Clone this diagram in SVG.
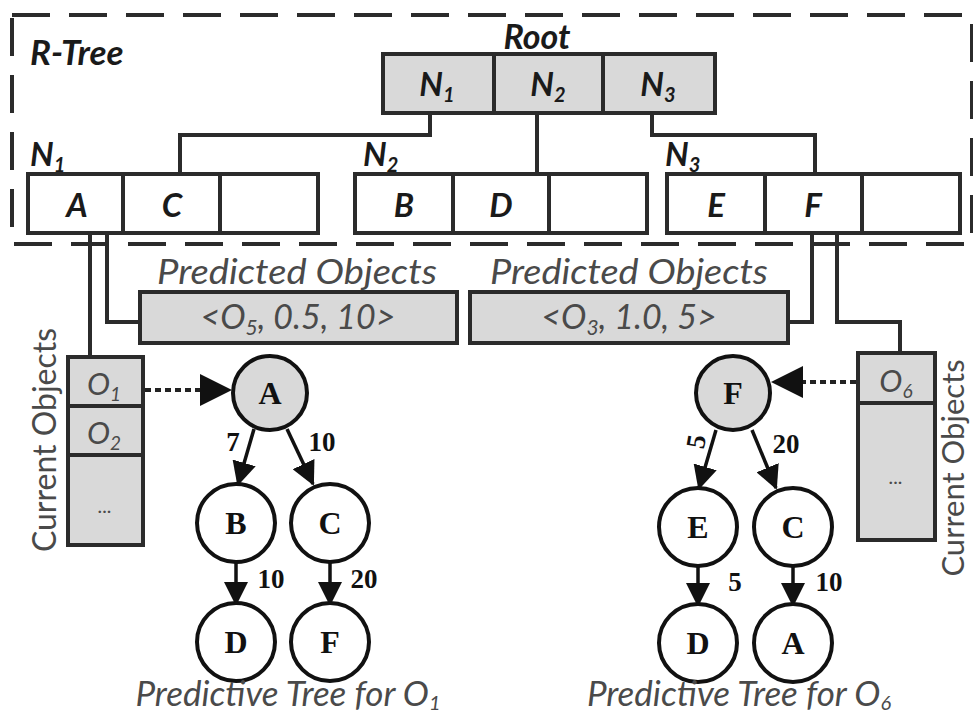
<svg xmlns="http://www.w3.org/2000/svg" width="973" height="720" viewBox="0 0 973 720">
  <style>
    .bg { fill: #ffffff; }
    .frame { fill: none; stroke: #2b2b2b; stroke-width: 4; stroke-dasharray: 38 19; }
    .cell { fill: #ffffff; stroke: #2b2b2b; stroke-width: 4; }
    .gcell { fill: #d9d9d9; stroke: #2b2b2b; stroke-width: 4; }
    .wire { fill: none; stroke: #2b2b2b; stroke-width: 4; }
    .edge { fill: none; stroke: #111; stroke-width: 3.5; }
    .dots { fill: none; stroke: #222; stroke-width: 4; stroke-dasharray: 6 4; }
    .node { stroke: #111; stroke-width: 4; }
    .lbl { font-family: Lato, "Liberation Sans", sans-serif; font-style: italic; font-weight: bold; fill: #1a1a1a; }
    .gray { font-family: Lato, "Liberation Sans", sans-serif; font-style: italic; fill: #4a4a4a; }
    .side { font-family: Lato, "Liberation Sans", sans-serif; fill: #4a4a4a; }
    .ser { font-family: "Liberation Serif", "DejaVu Serif", serif; font-weight: bold; fill: #111; text-anchor: middle; }
  </style>
  <defs>
    <marker id="head" markerUnits="userSpaceOnUse" markerWidth="24" markerHeight="24" viewBox="0 0 24 24" refX="22" refY="12" orient="auto">
      <path d="M0,0 L24,12 L0,24 Z" fill="#111"/>
    </marker>
  </defs>

  <rect class="bg" x="0" y="0" width="973" height="720"/>

  <!-- R-tree frame -->
  <rect class="frame" x="12" y="15" width="960" height="229"/>
  <text class="lbl" x="30" y="65" font-size="35">R-Tree</text>

  <!-- wiring between index entries -->
  <g id="connectors">
    <polyline class="wire" points="430,113 430,135 180,135 180,174"/>
    <polyline class="wire" points="537,113 537,174"/>
    <polyline class="wire" points="652,113 652,135 815,135 815,174"/>
    <polyline class="wire" points="90,233 90,357"/>
    <polyline class="wire" points="107,233 107,322 140,322"/>
    <polyline class="wire" points="812,233 812,322 788,322"/>
    <polyline class="wire" points="837,233 837,322 900,322 900,353"/>
    <line class="dots" x1="145" y1="390" x2="205" y2="390"/>
    <path d="M200,374 L232,390 L200,406 Z" fill="#111"/>
    <line class="dots" x1="856" y1="382" x2="798" y2="382"/>
    <path d="M803,366 L771,382 L803,398 Z" fill="#111"/>
    <line class="edge" x1="254" y1="429" x2="238" y2="484" marker-end="url(#head)"/>
    <line class="edge" x1="287" y1="429" x2="313" y2="484" marker-end="url(#head)"/>
    <line class="edge" x1="236" y1="562" x2="236" y2="604" marker-end="url(#head)"/>
    <line class="edge" x1="330" y1="562" x2="330" y2="604" marker-end="url(#head)"/>
    <line class="edge" x1="716" y1="430" x2="699" y2="488" marker-end="url(#head)"/>
    <line class="edge" x1="752" y1="430" x2="776" y2="488" marker-end="url(#head)"/>
    <line class="edge" x1="698" y1="566" x2="698" y2="605" marker-end="url(#head)"/>
    <line class="edge" x1="793" y1="566" x2="793" y2="605" marker-end="url(#head)"/>
    <g class="ser" font-size="27">
      <text x="233" y="451">7</text>
      <text x="322" y="451">10</text>
      <text x="271" y="588">10</text>
      <text x="364" y="588">20</text>
      <text x="0" y="0" transform="translate(705,443) rotate(-80)">5</text>
      <text x="786" y="453">20</text>
      <text x="735" y="591">5</text>
      <text x="829" y="591">10</text>
    </g>
  </g>

  <!-- root entry -->
  <g id="root">
    <text class="lbl" x="537" y="49" font-size="34" text-anchor="middle" font-weight="600">Root</text>
    <rect class="gcell" x="383" y="54" width="111" height="59"/>
    <rect class="gcell" x="494" y="54" width="109" height="59"/>
    <rect class="gcell" x="603" y="54" width="112" height="59"/>
    <text class="lbl" x="437" y="96" font-size="33" text-anchor="middle">N<tspan font-size="20" dy="6">1</tspan></text>
    <text class="lbl" x="548" y="96" font-size="33" text-anchor="middle">N<tspan font-size="20" dy="6">2</tspan></text>
    <text class="lbl" x="658" y="96" font-size="33" text-anchor="middle">N<tspan font-size="20" dy="6">3</tspan></text>
  </g>

  <!-- leaf nodes -->
  <g id="n1">
    <text class="lbl" x="30" y="166" font-size="33">N<tspan font-size="20" dy="6">1</tspan></text>
    <rect class="cell" x="28" y="174" width="95" height="59"/>
    <rect class="cell" x="123" y="174" width="97" height="59"/>
    <rect class="cell" x="220" y="174" width="98" height="59"/>
    <text class="lbl" x="77" y="217" font-size="33" text-anchor="middle">A</text>
    <text class="lbl" x="172" y="217" font-size="33" text-anchor="middle">C</text>
  </g>
  <g id="n2">
    <text class="lbl" x="363" y="166" font-size="33">N<tspan font-size="20" dy="6">2</tspan></text>
    <rect class="cell" x="355" y="174" width="98" height="59"/>
    <rect class="cell" x="453" y="174" width="96" height="59"/>
    <rect class="cell" x="549" y="174" width="98" height="59"/>
    <text class="lbl" x="404" y="217" font-size="33" text-anchor="middle">B</text>
    <text class="lbl" x="501" y="217" font-size="33" text-anchor="middle">D</text>
  </g>
  <g id="n3">
    <text class="lbl" x="665" y="166" font-size="33">N<tspan font-size="20" dy="6">3</tspan></text>
    <rect class="cell" x="667" y="174" width="98" height="59"/>
    <rect class="cell" x="765" y="174" width="97" height="59"/>
    <rect class="cell" x="862" y="174" width="98" height="59"/>
    <text class="lbl" x="716" y="217" font-size="33" text-anchor="middle">E</text>
    <text class="lbl" x="813" y="217" font-size="33" text-anchor="middle">F</text>
  </g>

  <!-- predicted object lists -->
  <g id="pred1">
    <text class="gray" x="297" y="284" font-size="35" text-anchor="middle" textLength="280" lengthAdjust="spacingAndGlyphs">Predicted Objects</text>
    <rect class="gcell" x="140" y="292" width="317" height="51"/>
    <text class="gray" x="298" y="329" font-size="34" text-anchor="middle">&lt;O<tspan font-size="21" dy="6">5</tspan><tspan dy="-6">, 0.5, 10&gt;</tspan></text>
  </g>
  <g id="pred3">
    <text class="gray" x="629" y="284" font-size="35" text-anchor="middle" textLength="278" lengthAdjust="spacingAndGlyphs">Predicted Objects</text>
    <rect class="gcell" x="470" y="292" width="318" height="51"/>
    <text class="gray" x="629" y="329" font-size="34" text-anchor="middle">&lt;O<tspan font-size="21" dy="6">3</tspan><tspan dy="-6">, 1.0, 5&gt;</tspan></text>
  </g>

  <!-- current object lists -->
  <g id="cur1">
    <text class="side" x="0" y="0" font-size="32" text-anchor="middle" transform="translate(56,440) rotate(-90)">Current Objects</text>
    <rect class="gcell" x="68" y="357" width="75" height="49"/>
    <rect class="gcell" x="68" y="406" width="75" height="49"/>
    <rect class="gcell" x="68" y="455" width="75" height="90"/>
    <text class="gray" x="104" y="395" font-size="31" text-anchor="middle">O<tspan font-size="19" dy="6">1</tspan></text>
    <text class="gray" x="104" y="444" font-size="31" text-anchor="middle">O<tspan font-size="19" dy="6">2</tspan></text>
    <text class="gray" x="105" y="513" font-size="20" text-anchor="middle">...</text>
  </g>
  <g id="cur6">
    <text class="side" x="0" y="0" font-size="31" text-anchor="middle" transform="translate(964,468) rotate(-90)">Current Objects</text>
    <rect class="gcell" x="858" y="353" width="77" height="50"/>
    <rect class="gcell" x="858" y="403" width="77" height="137"/>
    <text class="gray" x="896" y="392" font-size="31" text-anchor="middle">O<tspan font-size="19" dy="6">6</tspan></text>
    <text class="gray" x="896" y="484" font-size="20" text-anchor="middle">...</text>
  </g>

  <!-- predictive tree for O1 -->
  <g id="t1-A"><circle class="node" cx="270" cy="393" r="37" fill="#d9d9d9"/><text class="ser" x="270" y="404" font-size="32">A</text></g>
  <g id="t1-B"><circle class="node" cx="236" cy="523" r="39" fill="#fff"/><text class="ser" x="236" y="534" font-size="32">B</text></g>
  <g id="t1-C"><circle class="node" cx="330" cy="523" r="39" fill="#fff"/><text class="ser" x="330" y="534" font-size="32">C</text></g>
  <g id="t1-D"><circle class="node" cx="236" cy="642" r="39" fill="#fff"/><text class="ser" x="236" y="653" font-size="32">D</text></g>
  <g id="t1-F"><circle class="node" cx="330" cy="642" r="39" fill="#fff"/><text class="ser" x="330" y="653" font-size="32">F</text></g>
  <text class="gray" x="288" y="706" font-size="35" text-anchor="middle">Predictive Tree for O<tspan font-size="20" dy="4">1</tspan></text>

  <!-- predictive tree for O6 -->
  <g id="t6-F"><circle class="node" cx="733" cy="393" r="37" fill="#d9d9d9"/><text class="ser" x="733" y="404" font-size="32">F</text></g>
  <g id="t6-E"><circle class="node" cx="698" cy="527" r="39" fill="#fff"/><text class="ser" x="698" y="538" font-size="32">E</text></g>
  <g id="t6-C"><circle class="node" cx="793" cy="527" r="39" fill="#fff"/><text class="ser" x="793" y="538" font-size="32">C</text></g>
  <g id="t6-D"><circle class="node" cx="698" cy="643" r="39" fill="#fff"/><text class="ser" x="698" y="654" font-size="32">D</text></g>
  <g id="t6-A"><circle class="node" cx="793" cy="643" r="39" fill="#fff"/><text class="ser" x="793" y="654" font-size="32">A</text></g>
  <text class="gray" x="739" y="706" font-size="35" text-anchor="middle">Predictive Tree for O<tspan font-size="20" dy="4">6</tspan></text>
</svg>
